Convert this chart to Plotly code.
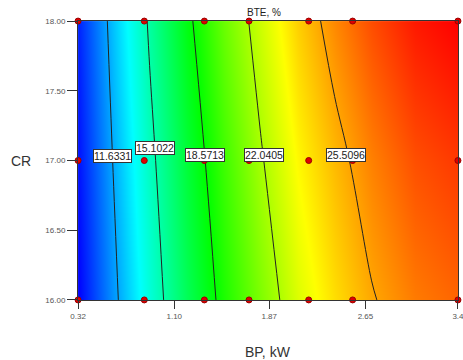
import plotly.graph_objects as go

# Grid (BP, kW along x; CR along y; BTE, % values)
bp_grid = [0.32, 0.6, 0.9, 1.2, 1.5, 1.8, 2.1, 2.4, 2.7, 3.05, 3.4]
cr_grid = [16.0, 17.0, 18.0]
bte_cr16 = [8.18, 11.18, 14.11, 16.73, 19.05, 21.06, 22.95, 24.30, 25.40, 26.30, 26.75]
bte_cr17 = [8.52, 11.63, 14.66, 17.37, 19.76, 21.88, 23.75, 25.05, 26.20, 27.20, 27.65]
bte_cr18 = [8.87, 12.13, 15.31, 18.15, 20.65, 22.70, 24.62, 26.05, 27.25, 28.30, 28.79]

# Contour levels
levels = [11.6331, 15.1022, 18.5713, 22.0405, 25.5096]
level_texts = ["11.6331", "15.1022", "18.5713", "22.0405", "25.5096"]

# Design points
design_bp = [0.32, 0.857, 1.344, 1.706, 2.19, 2.546, 3.4]
design_cr = [16.0, 17.0, 18.0]

# Axis ticks
x_ticks = [0.32, 1.10, 1.87, 2.65, 3.4]
x_ticktext = ["0.32", "1.10", "1.87", "2.65", "3.4"]
y_ticks = [16.0, 16.5, 17.0, 17.5, 18.0]

colorscale = [
    [0.0, "rgb(0,0,255)"],
    [0.25, "rgb(0,255,255)"],
    [0.5, "rgb(0,255,0)"],
    [0.75, "rgb(255,255,0)"],
    [1.0, "rgb(255,0,0)"],
]

FONT = "Liberation Sans, Arial, sans-serif"

fig = go.Figure()
fig.add_trace(go.Contour(
    x=bp_grid, y=cr_grid, z=[bte_cr16, bte_cr17, bte_cr18],
    colorscale=colorscale, showscale=False,
    zmin=min(bte_cr16), zmax=max(bte_cr18),
    contours=dict(coloring="heatmap", start=levels[0], end=levels[-1],
                  size=levels[1] - levels[0], showlines=True),
    line=dict(color="#222", width=1),
    hoverinfo="skip",
))

px_ = [b for c in design_cr for b in design_bp]
py_ = [c for c in design_cr for b in design_bp]
fig.add_trace(go.Scatter(
    x=px_, y=py_, mode="markers", cliponaxis=False,
    marker=dict(size=6, color="#e00000", line=dict(color="#900", width=1)),
    hoverinfo="skip", showlegend=False,
))

label_x = [0.596, 0.944, 1.349, 1.827, 2.492]
label_y = [17.03, 17.09, 17.04, 17.04, 17.04]
for lx, ly, t in zip(label_x, label_y, level_texts):
    fig.add_annotation(x=lx, y=ly, text=t, showarrow=False,
                       font=dict(family=FONT, size=10.5, color="#222"),
                       bgcolor="white", bordercolor="#333", borderwidth=1, borderpad=0)

fig.add_annotation(xref="paper", yref="paper", x=0.49, y=1.0, yanchor="bottom",
                   text="BTE, %", showarrow=False, yshift=1,
                   font=dict(family=FONT, size=10, color="#222"))
fig.add_annotation(xref="paper", yref="paper", x=0.5, y=0, yanchor="top",
                   text="BP, kW", showarrow=False, yshift=-42,
                   font=dict(family=FONT, size=14, color="#333"))
fig.add_annotation(xref="paper", yref="paper", x=0, y=0.5, xanchor="right",
                   text="CR", showarrow=False, xshift=-45,
                   font=dict(family=FONT, size=14, color="#333"))

fig.update_xaxes(range=[0.3195, 3.4005], tickvals=x_ticks, ticktext=x_ticktext,
                 ticks="outside", ticklen=8, tickcolor="#333", showline=True,
                 linecolor="#333", linewidth=1, mirror=True, showgrid=False, zeroline=False,
                 ticklabeloverflow="allow", automargin=False,
                 tickfont=dict(family=FONT, size=8, color="#555"))
fig.update_yaxes(range=[15.9995, 18.0005], tickvals=y_ticks, tickformat=".2f",
                 ticks="outside", ticklen=10, tickcolor="#333", showline=True,
                 linecolor="#333", linewidth=1, mirror=True, showgrid=False, zeroline=False,
                 automargin=False,
                 tickfont=dict(family=FONT, size=8, color="#555"))

fig.update_layout(width=463, height=360, margin=dict(l=78, r=5, t=21, b=60),
                  paper_bgcolor="white", plot_bgcolor="white", showlegend=False)

fig.write_html("out.html")
